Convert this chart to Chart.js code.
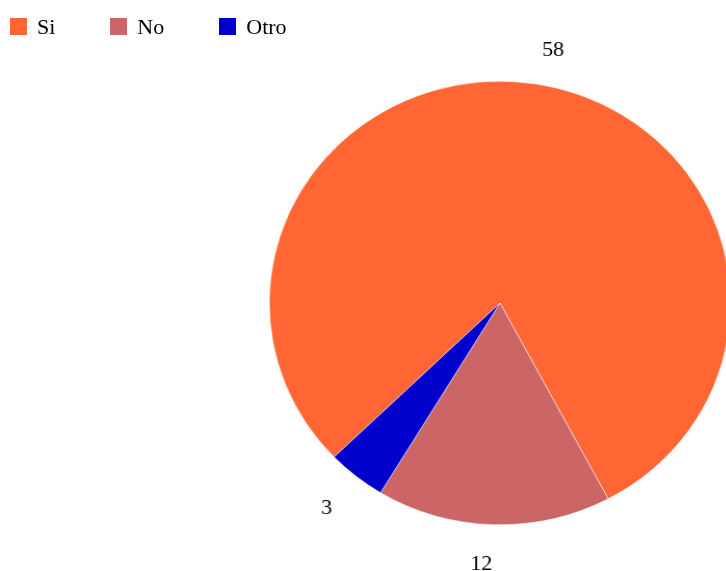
<!DOCTYPE html>
<html>
<head>
<meta charset="utf-8">
<script src="https://cdn.jsdelivr.net/npm/chart.js@4"></script>
<style>
    html, body { margin: 0; padding: 0; background: #fff; }
    #wrap { position: relative; width: 726px; height: 571px; overflow: hidden; }
    #chart { position: absolute; left: 0; top: 0; transform: scaleX(1.04); transform-origin: 500px 0; }
    #legend { position: absolute; left: 10px; top: 14px; display: flex; gap: 55px;
              font-family: 'Liberation Serif', 'Times New Roman', serif; font-size: 22px; color: #000; }
    .item { display: flex; align-items: center; height: 25px; }
    .box { width: 17px; height: 17px; margin-right: 10px; box-sizing: border-box; }
</style>
</head>
<body>
<div id="wrap">
    <canvas id="chart" width="726" height="571"></canvas>
    <div id="legend"></div>
</div>
<script>
const labels = ['Si', 'No', 'Otro']
const values = [58, 12, 3]
const colors = ['#FF6633', '#CC6666', '#0000CC']
const stretch = 1.04

// etiquetas de valor fuera del pastel
const outLabels = {
    id: 'outLabels',
    afterDatasetsDraw(chart) {
        const ctx = chart.ctx
        const meta = chart.getDatasetMeta(0)
        meta.data.forEach((arc, i) => {
            const mid = (arc.startAngle + arc.endAngle) / 2
            const r = arc.outerRadius + 37
            const x = arc.x + Math.cos(mid) * r
            const y = arc.y + Math.sin(mid) * r + 3
            ctx.save()
            ctx.translate(x, y)
            ctx.scale(1 / stretch, 1)
            ctx.font = "22px 'Liberation Serif', 'Times New Roman', serif"
            ctx.fillStyle = '#000'
            ctx.textBaseline = 'middle'
            ctx.textAlign = x >= arc.x ? 'left' : 'right'
            ctx.fillText(String(values[i]), 0, 0)
            ctx.restore()
        })
    }
}

const legend = document.getElementById('legend')
labels.forEach((l, i) => {
    const item = document.createElement('div')
    item.className = 'item'
    item.innerHTML = `<span class="box" style="background:${colors[i]}"></span><span>${l}</span>`
    legend.appendChild(item)
})

new Chart(document.getElementById('chart').getContext('2d'), {
    type: 'pie',
    data: {
        labels: labels,
        datasets: [{
            data: values,
            backgroundColor: colors,
            borderColor: '#fff',
            borderWidth: 0.5
        }]
    },
    options: {
        responsive: false,
        animation: false,
        rotation: 226,
        layout: { padding: { left: 278, top: 81, right: 4, bottom: 46 } },
        plugins: {
            legend: { display: false },
            tooltip: { enabled: false }
        }
    },
    plugins: [outLabels]
})
</script>
</body>
</html>
